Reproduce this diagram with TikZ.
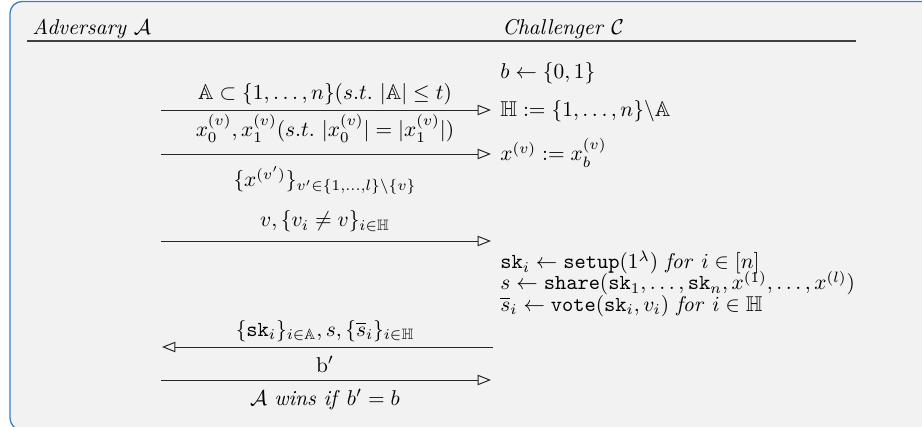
\documentclass[tikz,border=0pt]{standalone}
\usepackage{amsmath,amssymb}
\newcommand{\dbl}[1]{\mathbb{#1}}
\usetikzlibrary{arrows.meta}
\definecolor{framebg}{HTML}{F2F2F2}
\definecolor{frameblue}{HTML}{3C7DC3}
\tikzset{
  msg/.style={line width=0.45pt, black!85, -{Triangle[open,length=6.2pt,width=4.8pt]}},
  lbl/.style={inner sep=0pt, anchor=base},
  rtxt/.style={inner sep=0pt, anchor=base west},
  headline/.style={line width=0.75pt, black!75}
}
\begin{document}
\begin{tikzpicture}[x=0.467pt,y=-0.467pt]
\useasboundingbox (0,0) rectangle (922,427);
\begin{scope}
\clip (0,0) rectangle (922,427);
\draw[frameblue, fill=framebg, line width=0.6pt, rounded corners=5.6pt] (10,1.5) rectangle (940,430);
\end{scope}
% headers
\node[rtxt] (adv) at (32,35) {\textit{Adversary} $\mathcal{A}$};
\node[rtxt] (chal) at (502,35) {\textit{Challenger} $\mathcal{C}$};
\coordinate (hl) at (27,41);
\coordinate (hr) at (856,41);
\draw[headline] (hl) -- (hr);
% challenger side
\node[rtxt] (bsel) at (500,79) {$b \leftarrow \{0,1\}$};
\node[rtxt] (hset) at (500,117) {$\dbl{H} := \{1,\ldots,n\}\backslash\dbl{A}$};
\node[rtxt] (xsel) at (500,161) {$x^{(v)} := x_b^{(v)}$};
\node[rtxt] (setup) at (500,269) {$\mathtt{sk}_i \leftarrow \mathtt{setup}(1^{\lambda})\ \mathit{for}\ i \in [n]$};
\node[rtxt] (share) at (500,290) {$s \leftarrow \mathtt{share}(\mathtt{sk}_1,\ldots,\mathtt{sk}_n,x^{(1)},\ldots,x^{(l)})$};
\node[rtxt] (vote) at (500,311) {$\overline{s}_i \leftarrow \mathtt{vote}(\mathtt{sk}_i,v_i)\ \mathit{for}\ i \in \dbl{H}$};
% messages
\coordinate (m1a) at (161,110); \coordinate (m1b) at (491,110);
\coordinate (m2a) at (161,154); \coordinate (m2b) at (491,154);
\coordinate (m3a) at (161,241); \coordinate (m3b) at (491,241);
\coordinate (m4a) at (162,347); \coordinate (m4b) at (493,347);
\coordinate (m5a) at (161,380); \coordinate (m5b) at (491,380);
\node[lbl] (l1) at (325,100) {$\dbl{A} \subset \{1,\ldots,n\}(s.t.\ |\dbl{A}| \leq t)$};
\draw[msg] (m1a) -- (m1b);
\node[lbl] (l2) at (325,137) {$x_0^{(v)}, x_1^{(v)}(s.t.\ |x_0^{(v)}| = |x_1^{(v)}|)$};
\draw[msg] (m2a) -- (m2b);
\node[lbl] (l3) at (325,187) {$\{x^{(v')}\}_{v'\in\{1,\ldots,l\}\backslash\{v\}}$};
\node[lbl] (l4) at (325,227) {$v, \{v_i \neq v\}_{i\in\dbl{H}}$};
\draw[msg] (m3a) -- (m3b);
\node[lbl] (l5) at (325,336) {$\{\mathtt{sk}_i\}_{i\in\dbl{A}}, s, \{\overline{s}_i\}_{i\in\dbl{H}}$};
\draw[msg] (m4b) -- (m4a);
\node[lbl] (l6) at (325,372) {$\mathrm{b}'$};
\draw[msg] (m5a) -- (m5b);
\node[lbl] (l7) at (325,405) {$\mathcal{A}$ \textit{wins if} $b' = b$};
\end{tikzpicture}
\end{document}
